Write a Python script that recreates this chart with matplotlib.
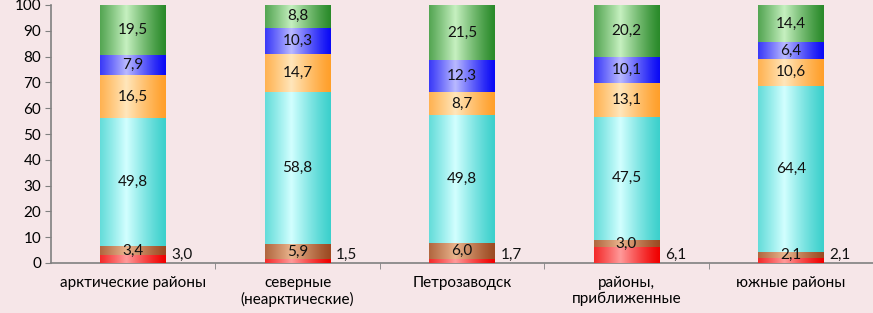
import numpy as np
import matplotlib
matplotlib.use('Agg')
import matplotlib.pyplot as plt
from matplotlib.colors import LinearSegmentedColormap

categories = ['арктические районы', 'северные\n(неарктические)', 'Петрозаводск',
              'районы,\nприближенные', 'южные районы']
red = [3.0, 1.5, 1.7, 6.1, 2.1]
brown = [3.4, 5.9, 6.0, 3.0, 2.1]
cyan = [49.8, 58.8, 49.8, 47.5, 64.4]
orange = [16.5, 14.7, 8.7, 13.1, 10.6]
blue = [7.9, 10.3, 12.3, 10.1, 6.4]
green = [19.5, 8.8, 21.5, 20.2, 14.4]

series = [red, brown, cyan, orange, blue, green]
# edge colour, centre (light) colour for the gradient fill
shades = [('#f00000', '#ff9a9a'),
          ('#9c4a22', '#eab58e'),
          ('#3cd0cc', '#d2ffff'),
          ('#ff9f2a', '#ffe6bb'),
          ('#0a0af5', '#b9b9ff'),
          ('#2a8a2a', '#c6f0c0')]

bg = '#f6e6e8'
fs = 11
plt.rcParams['font.family'] = ['Lato', 'DejaVu Sans']

fig = plt.figure(figsize=(8.73, 3.13), dpi=100, facecolor=bg)
ax = fig.add_axes([51 / 873, 50 / 313, 822 / 873, 258 / 313], facecolor=bg)

x = np.arange(len(categories))
width = 0.4
bottom = np.zeros(len(categories))
grad = np.linspace(0, 1, 200)
prof = np.clip(1 - np.abs(grad - 0.4) / 0.6, 0, 1) ** 1.2
for vals, (edge, light) in zip(series, shades):
    cmap = LinearSegmentedColormap.from_list('g', [edge, light])
    bars = ax.bar(x, vals, width, bottom=bottom, color=edge, edgecolor='none', zorder=2)
    for b in bars:
        img = ax.imshow(prof[np.newaxis, :], cmap=cmap, aspect='auto', vmin=0, vmax=1,
                        extent=[b.get_x(), b.get_x() + b.get_width(),
                                b.get_y(), b.get_y() + b.get_height()], zorder=3)
        img.set_clip_path(b)
    bottom += np.array(vals)

# segment labels
bottom = np.zeros(len(categories))
for k, vals in enumerate(series):
    for i, v in enumerate(vals):
        lab = f'{v:.1f}'.replace('.', ',')
        if k == 0:
            ax.text(x[i] + width / 2 + 0.035, bottom[i] + 0.3, lab, ha='left', va='bottom',
                    fontsize=fs, color='#111111', zorder=5)
        else:
            ax.text(x[i], bottom[i] + v / 2, lab, ha='center', va='center',
                    fontsize=fs, color='#111111', zorder=5)
    bottom += np.array(vals)

ax.set_xlim(-0.5, len(categories) - 0.5)
ax.set_ylim(0, 100)
ax.set_yticks(np.arange(0, 101, 10))
ax.tick_params(axis='y', labelsize=fs, length=4, color='#808080', pad=3)
ax.set_xticks(x)
ax.set_xticklabels(categories, fontsize=fs)
ax.tick_params(axis='x', length=0, pad=9)
ax.set_xticks(np.arange(0.5, len(categories) - 0.5, 1), minor=True)
ax.tick_params(axis='x', which='minor', length=4, color='#808080')
for s in ['top', 'right']:
    ax.spines[s].set_visible(False)
for s in ['left', 'bottom']:
    ax.spines[s].set_color('#808080')
    ax.spines[s].set_linewidth(1.2)

fig.savefig('out.png', dpi=100, facecolor=bg)
